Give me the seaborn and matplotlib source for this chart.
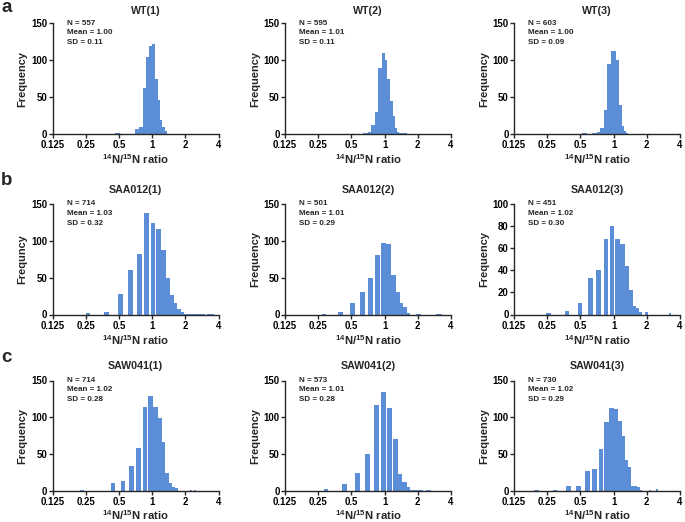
import numpy as np
import pandas as pd
import matplotlib
matplotlib.use("Agg")
import matplotlib.pyplot as plt
from matplotlib.ticker import NullLocator
import seaborn as sns

# ---------------- data ----------------
titles = ["WT(1)", "WT(2)", "WT(3)",
          "SAA012(1)", "SAA012(2)", "SAA012(3)",
          "SAW041(1)", "SAW041(2)", "SAW041(3)"]
n_values = [557, 595, 603, 714, 501, 451, 714, 573, 730]
means = ["1.00", "1.01", "1.00", "1.03", "1.01", "1.02", "1.02", "1.01", "1.02"]
sds = ["0.11", "0.11", "0.09", "0.32", "0.29", "0.30", "0.28", "0.28", "0.29"]
ylabels = ["Frequency", "Frequency", "Frequency",
           "Frequncy", "Frequency", "Frequency",
           "Frequency", "Frequency", "Frequency"]
ymaxes = [150, 150, 150, 150, 150, 100, 150, 150, 150]
panel_letters = ["a", "b", "c"]

# linear histogram bins: first edge and bin width of each panel
bin_starts = [0.46, 0.46, 0.46, 0.01, 0.048, 0.02, 0.02, 0.02, 0.01]
bin_widths = [0.06, 0.06, 0.06, 0.12, 0.11, 0.113, 0.10, 0.13, 0.09]

counts_wt1 = [1, 0, 0, 0, 7, 10, 62, 105, 120, 122, 74, 46, 19, 10, 4]
counts_wt2 = [0, 0, 0, 1, 3, 12, 30, 90, 110, 100, 75, 45, 25, 8, 3, 1, 1, 1, 1]
counts_wt3 = [0, 1, 0, 1, 3, 8, 33, 95, 112, 112, 100, 40, 11, 4, 1]
counts_saa1 = [0, 0, 2, 4, 28, 60, 82, 138, 124, 116, 87, 50, 27, 15, 7, 3,
               1, 1, 1, 1, 1, 1, 1, 1, 1, 0, 1, 1, 1, 1]
counts_saa2 = [0, 0, 1, 3, 15, 31, 49, 81, 97, 96, 54, 30, 16, 10, 2, 0, 0,
               1, 1, 0, 0, 0, 0, 0, 0, 0, 1, 1, 1, 1]
counts_saa3 = [0, 0, 1, 3, 10, 33, 40, 68, 80, 68, 64, 44, 22, 8, 6, 2, 0, 2,
               0, 0, 0, 0, 0, 0, 0, 0, 0, 0, 1]
counts_saw1 = [0, 0, 2, 0, 11, 13, 34, 58, 114, 129, 114, 99, 67, 25, 11, 5, 4,
               0, 0, 0, 0, 0, 1, 0, 1]
counts_saw2 = [0, 0, 3, 9, 25, 50, 117, 134, 112, 70, 23, 12, 5, 2, 1, 1, 1,
               0, 1, 1]
counts_saw3 = [0, 0, 1, 2, 7, 7, 27, 30, 57, 93, 113, 111, 95, 74, 42, 33, 7,
               7, 5, 1, 0, 0, 0, 2, 0, 0, 0, 3]
all_counts = [counts_wt1, counts_wt2, counts_wt3,
              counts_saa1, counts_saa2, counts_saa3,
              counts_saw1, counts_saw2, counts_saw3]

xticks = [0.125, 0.25, 0.5, 1, 2, 4]
xtick_labels = ["0.125", "0.25", "0.5", "1", "2", "4"]

# ---------------- style ----------------
sns.set_theme(style="ticks")
plt.rcParams["font.family"] = ["Liberation Sans", "DejaVu Sans"]
plt.rcParams["font.weight"] = "bold"
plt.rcParams["mathtext.fontset"] = "custom"
plt.rcParams["mathtext.rm"] = "Liberation Sans:bold"
plt.rcParams["mathtext.default"] = "rm"

bar_color = "#5b8ed6"
axis_color = "#262626"
cap_log2 = 0.14  # max drawn bar width (log2 units), bars left-aligned

W, H = 685, 522
fig = plt.figure(figsize=(W / 100, H / 100), dpi=100)

col_left = [52.5, 285, 514]
ax_w = 166
row_top = [23.5, 204, 380.5]
ax_h = 110.5
title_pad = [7, 8, 8.5]
xlabel_pad = [1.5, 1.5, 0.6]
title_shift = [0.065, 0, 0, 0, 0, 0, 0, 0, 0]
letter_baseline = [12.5, 185, 362.5]

for i in range(9):
    r, c = divmod(i, 3)
    left = col_left[c] / W
    bottom = 1 - (row_top[r] + ax_h) / H
    ax = fig.add_axes([left, bottom, ax_w / W, ax_h / H])

    counts = all_counts[i]
    edges = bin_starts[i] + bin_widths[i] * np.arange(len(counts) + 1)
    centers = (edges[:-1] + edges[1:]) / 2
    df = pd.DataFrame({"ratio": centers, "count": np.asarray(counts, float)})
    sns.histplot(data=df, x="ratio", weights="count",
                 bins=[float(e) for e in edges], ax=ax, color=bar_color,
                 alpha=1, linewidth=0, edgecolor=bar_color)
    ax.set_xscale("log", base=2)
    for p in ax.patches:
        x0 = p.get_x()
        cap = x0 * (2 ** cap_log2) - x0
        if p.get_width() > cap:
            p.set_width(cap)

    ax.set_xlim(0.125, 4)
    ax.set_ylim(0, ymaxes[i])
    ax.set_xticks(xticks)
    ax.set_xticklabels(xtick_labels)
    ax.xaxis.set_minor_locator(NullLocator())
    if ymaxes[i] == 100:
        ax.set_yticks([0, 20, 40, 60, 80, 100])
    else:
        ax.set_yticks([0, 50, 100, 150])
    ax.tick_params(axis="both", direction="out", length=3, width=1,
                   color=axis_color, labelsize=6.9, labelcolor="black")
    ax.tick_params(axis="y", pad=0.8)
    ax.tick_params(axis="x", pad=1.6)
    for lab in ax.get_xticklabels() + ax.get_yticklabels():
        lab.set_fontweight("bold")
    sns.despine(ax=ax)
    for s in ["left", "bottom"]:
        ax.spines[s].set_color(axis_color)
        ax.spines[s].set_linewidth(1)

    ax.set_ylabel(ylabels[i], fontsize=7.9, fontweight="bold", labelpad=2.5)
    ax.set_xlabel(r"$^{14}$N/$^{15}$N ratio", fontsize=8.1,
                  fontweight="bold", labelpad=xlabel_pad[r])
    t = ax.set_title(titles[i], fontsize=7.7, fontweight="bold",
                     pad=title_pad[r])
    t.set_x(0.5 + title_shift[i])
    ax.text(0.085, 1.035, f"N = {n_values[i]}\nMean = {means[i]}\nSD = {sds[i]}",
            transform=ax.transAxes, ha="left", va="top", fontsize=5.8,
            fontweight="bold", linespacing=1.55)

for r in range(3):
    fig.text(1 / W, 1 - letter_baseline[r] / H, panel_letters[r],
             fontsize=13.5, fontweight="bold", ha="left", va="baseline")

fig.savefig("out.png", dpi=100)
